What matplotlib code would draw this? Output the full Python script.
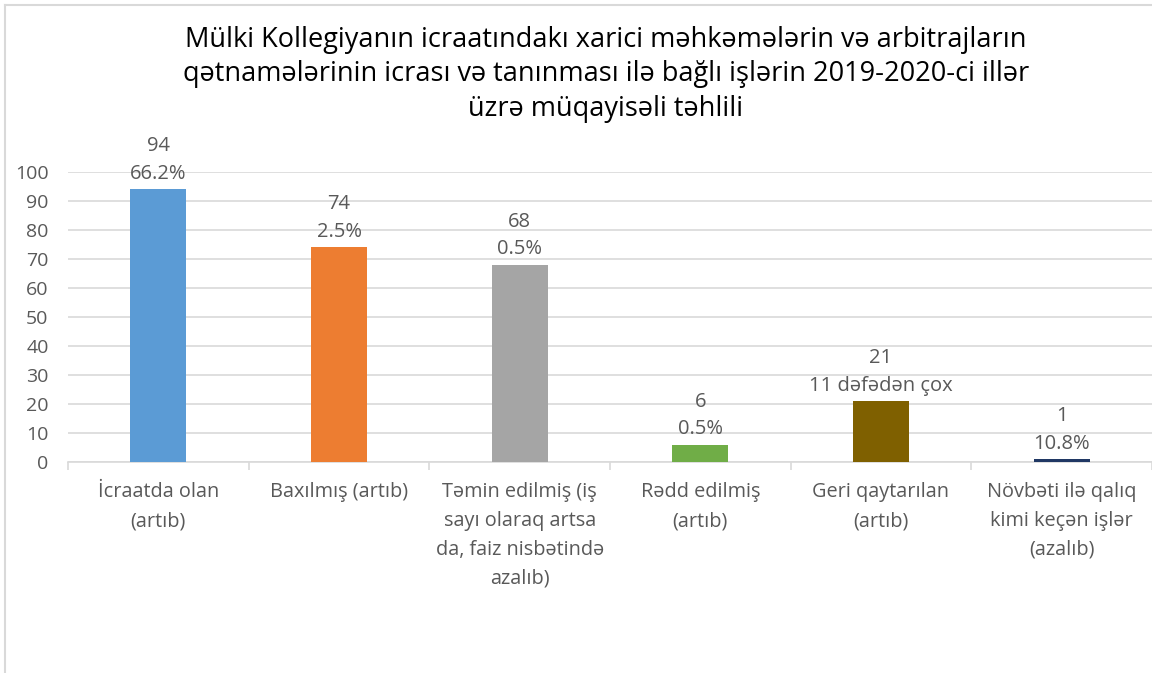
import matplotlib.pyplot as plt
from matplotlib.lines import Line2D

# chart data
categories = [
    "İcraatda olan\n(artıb)",
    "Baxılmış (artıb)",
    "Təmin edilmiş (iş\nsayı olaraq artsa\nda, faiz nisbətində\nazalıb)",
    "Rədd edilmiş\n(artıb)",
    "Geri qaytarılan\n(artıb)",
    "Növbəti ilə qalıq\nkimi keçən işlər\n(azalıb)",
]
values = [94, 74, 68, 6, 21, 1]
changes = ["66.2%", "2.5%", "0.5%", "0.5%", "11 dəfədən çox", "10.8%"]
colors = ["#5b9bd5", "#ed7d31", "#a5a5a5", "#70ad47", "#7f6000", "#203864"]
title = ("Mülki Kollegiyanın icraatındakı xarici məhkəmələrin və arbitrajların\n"
         "qətnamələrinin icrası və tanınması ilə bağlı işlərin 2019-2020-ci illər\n"
         "üzrə müqayisəli təhlili")

plt.rcParams["font.family"] = ["Open Sans", "DejaVu Sans"]
text_color = "#595959"
grid_color = "#d9d9d9"

fig = plt.figure(figsize=(11.52, 6.73), dpi=100)
ax = fig.add_axes([68 / 1152, 1 - 462 / 673, (1152 - 68) / 1152, 290 / 673])

x = range(len(categories))
ax.bar(x, values, width=0.31, color=colors, zorder=3)

for i, (v, c) in enumerate(zip(values, changes)):
    ax.annotate(f"{v}\n{c}", (i, v), xytext=(0, 4), textcoords="offset points",
                ha="center", va="bottom", fontsize=14.5, color=text_color,
                linespacing=1.5)

ax.set_xlim(-0.5, len(categories) - 0.5)
ax.set_ylim(0, 100)
ax.set_yticks(range(0, 101, 10))
ax.yaxis.grid(True, color=grid_color, linewidth=1.2, zorder=0)
ax.tick_params(axis="y", length=0, labelsize=14, labelcolor=text_color, pad=14)

# category boundaries get the tick marks, labels sit at bar centres
ax.set_xticks([i - 0.5 for i in range(len(categories) + 1)])
ax.set_xticklabels([])
ax.tick_params(axis="x", length=6, color=grid_color, width=1.2)
for i, cat in enumerate(categories):
    ax.text(i, -7, cat, ha="center", va="top", fontsize=14.3, color=text_color,
            linespacing=1.58)

for side in ["top", "right", "left"]:
    ax.spines[side].set_visible(False)
ax.spines["bottom"].set_color(grid_color)
ax.spines["bottom"].set_linewidth(1.2)

fig.text(606 / 1152, 1 - 26 / 673, title, ha="center", va="top", fontsize=19.5,
         color="black", linespacing=1.3)

# chart frame (only left and top visible in the cut-out)
fig.add_artist(Line2D([5 / 1152, 5 / 1152], [0, 1 - 5 / 673], color="#d9d9d9", lw=1.5))
fig.add_artist(Line2D([5 / 1152, 1], [1 - 5 / 673, 1 - 5 / 673], color="#d9d9d9", lw=1.5))

fig.savefig("out.png", dpi=100)
